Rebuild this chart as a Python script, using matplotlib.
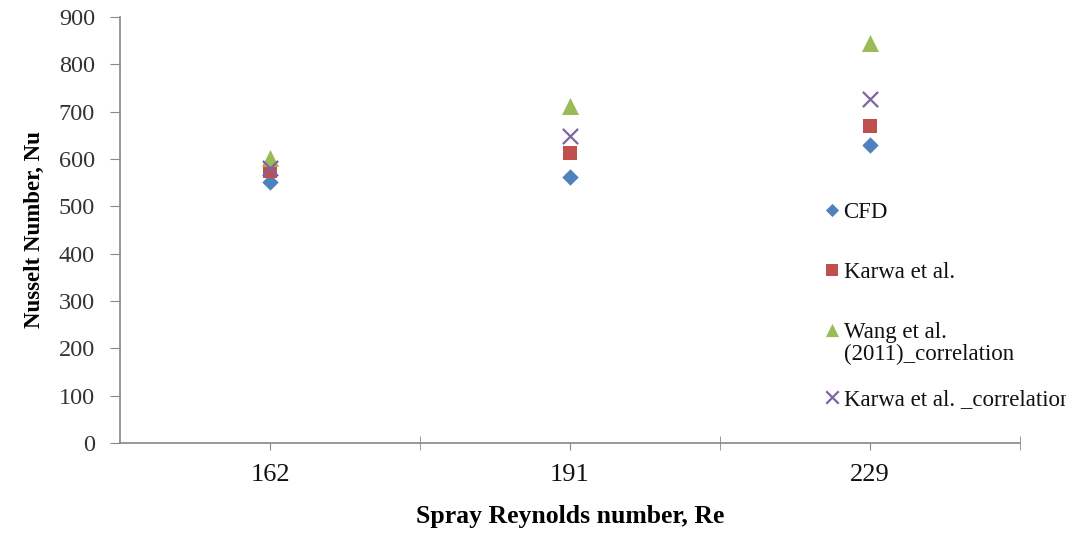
import matplotlib
matplotlib.use("Agg")
import matplotlib.pyplot as plt
from matplotlib.transforms import Bbox
import numpy as np

# Nusselt number vs spray Reynolds number
reynolds = ["162", "191", "229"]
nu_cfd = [551, 563, 630]
nu_karwa = [575, 613, 670]
nu_wang = [603, 712, 845]
nu_karwa_corr = [580, 649, 727]

plt.rcParams["font.family"] = ["Liberation Serif", "DejaVu Serif"]

fig = plt.figure(figsize=(10.87, 5.40), dpi=100)
ax = fig.add_axes([120 / 1087, 1 - 443 / 540, 900 / 1087, 426 / 540])

x = np.arange(len(reynolds))
# values, marker, colour, size, legend size, legend label, legend y (axes fraction)
series = [
    (nu_cfd, "D", "#4F81BD", 70, 45, "CFD", 0.547),
    (nu_karwa, "s", "#C0504D", 110, 80, "Karwa et al.", 0.406),
    (nu_wang, "^", "#9BBB59", 150, 90, "Wang et al.\n(2011)_correlation", 0.265),
    (nu_karwa_corr, "x", "#8064A2", 120, 80, "Karwa et al. _correlation", 0.108),
]
# chart area ends a little before the right edge of the image
chart_clip = Bbox([[0, 0], [1066, 540]])
for vals, mk, col, sz, lsz, lab, ly in series:
    lw = 1.6 if mk == "x" else 0
    ax.scatter(x, vals, marker=mk, s=sz, color=col, linewidths=lw, zorder=3)
    # hand-placed legend entry, Excel style
    ax.scatter([0.791], [ly], marker=mk, s=lsz, color=col, linewidths=lw,
               transform=ax.transAxes, clip_on=False, zorder=3)
    t = ax.text(0.804, ly + 0.019, lab, transform=ax.transAxes, fontsize=16.5,
                va="top", ha="left", color="#111111", linespacing=1.05)
    t.set_clip_box(chart_clip)
    t.set_clip_on(True)

ax.set_xlim(-0.5, len(reynolds) - 0.5)
ax.set_ylim(0, 900)
ax.set_yticks(np.arange(0, 901, 100))
ax.set_xticks(x)
ax.set_xticklabels(reynolds)
# category boundary ticks
ax.set_xticks(np.arange(-0.5, len(reynolds), 1.0)[1:], minor=True)
ax.tick_params(axis="x", which="major", length=5, direction="out", color="#888888",
               labelsize=19, pad=10, labelcolor="#111111")
ax.tick_params(axis="x", which="minor", length=10, direction="inout", color="#888888")
ax.tick_params(axis="y", length=7, direction="out", color="#888888", labelsize=17.5,
               labelcolor="#333333", pad=11)

for side in ["top", "right"]:
    ax.spines[side].set_visible(False)
for side in ["left", "bottom"]:
    ax.spines[side].set_color("#888888")
    ax.spines[side].set_linewidth(1.2)

ax.set_xlabel("Spray Reynolds number, Re", fontsize=18.5, fontweight="bold", labelpad=14)
ax.set_ylabel("Nusselt Number, Nu", fontsize=16.5, fontweight="bold", labelpad=10)

fig.savefig("out.png", dpi=100)
